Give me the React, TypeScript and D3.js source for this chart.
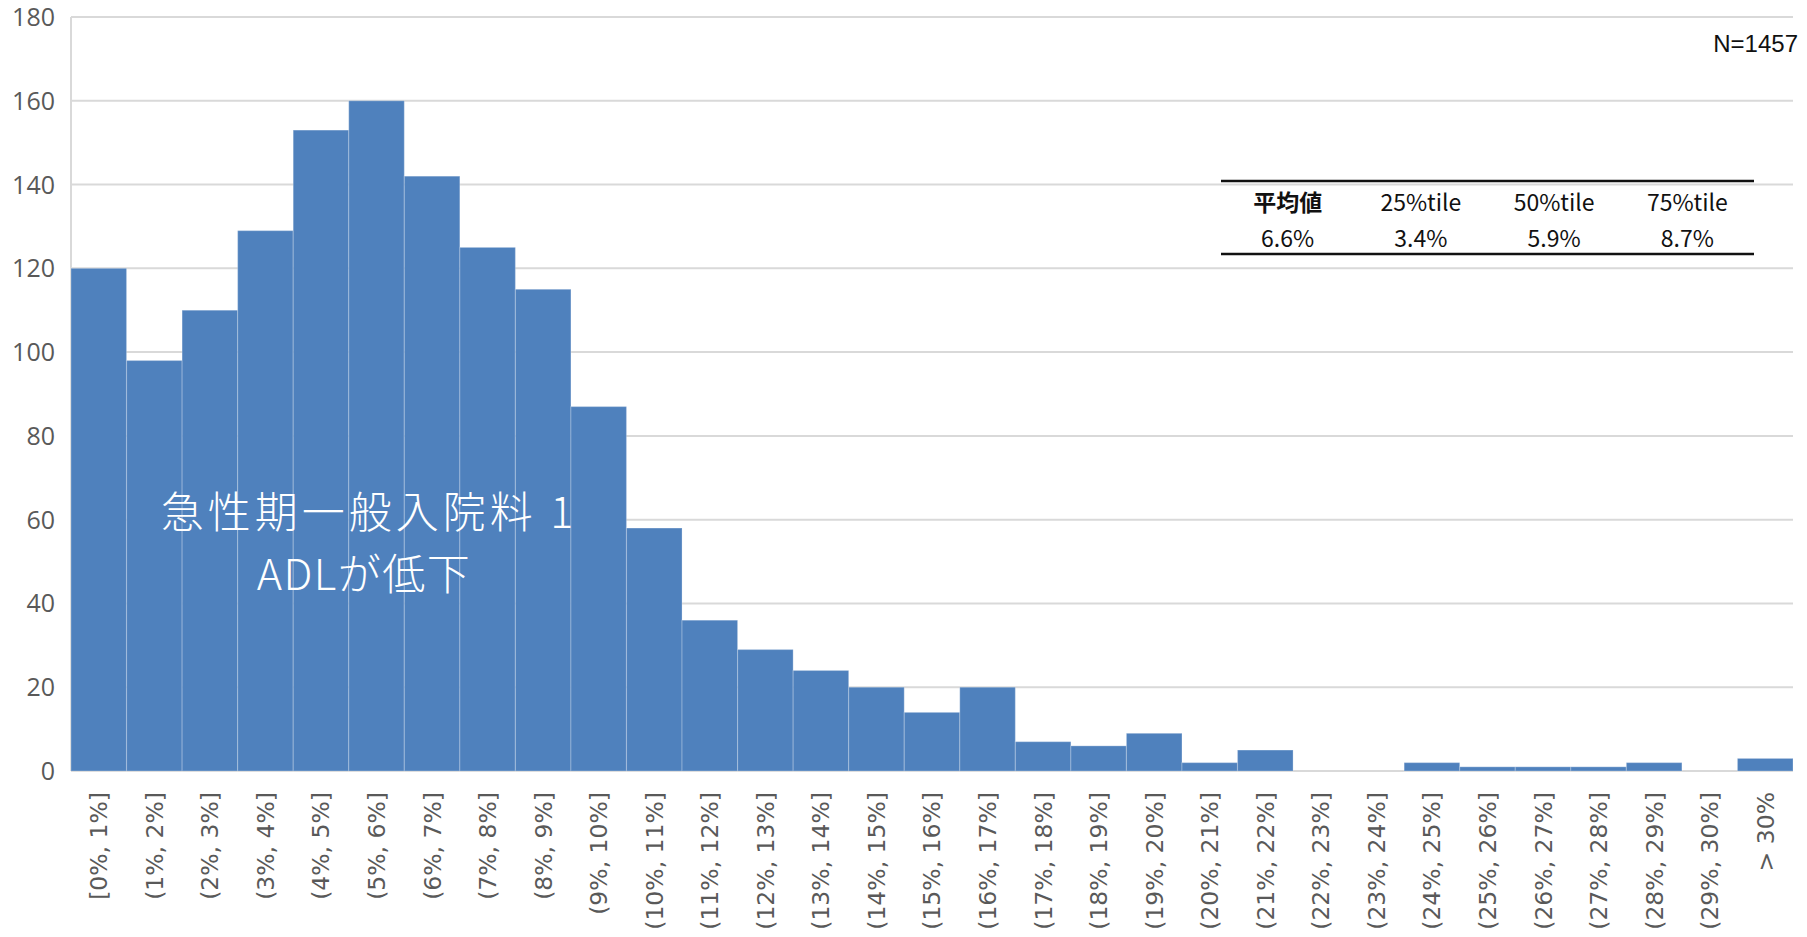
import React, { useRef, useEffect } from 'react';
import * as d3 from 'd3';

// bins of the histogram (x axis tick labels)
const binLabels: string[] = [
  '[0%, 1%]', '(1%, 2%]', '(2%, 3%]', '(3%, 4%]', '(4%, 5%]', '(5%, 6%]',
  '(6%, 7%]', '(7%, 8%]', '(8%, 9%]', '(9%, 10%]', '(10%, 11%]', '(11%, 12%]',
  '(12%, 13%]', '(13%, 14%]', '(14%, 15%]', '(15%, 16%]', '(16%, 17%]', '(17%, 18%]',
  '(18%, 19%]', '(19%, 20%]', '(20%, 21%]', '(21%, 22%]', '(22%, 23%]', '(23%, 24%]',
  '(24%, 25%]', '(25%, 26%]', '(26%, 27%]', '(27%, 28%]', '(28%, 29%]', '(29%, 30%]',
  '> 30%'
];

// number of hospitals in each bin
const counts: number[] = [
  120, 98, 110, 129, 153, 160, 142, 125, 115, 87, 58, 36,
  29, 24, 20, 14, 20, 7, 6, 9, 2, 5, 0, 0,
  2, 1, 1, 1, 2, 0, 3
];

const yTicks: number[] = [0, 20, 40, 60, 80, 100, 120, 140, 160, 180];

const statHeaders: string[] = ['平均値', '25%tile', '50%tile', '75%tile'];
const statValues: string[] = ['6.6%', '3.4%', '5.9%', '8.7%'];

const sampleLabel = 'N=1457';
const overlayLines: string[] = ['急性期一般入院料 1', 'ADLが低下'];

const WIDTH = 1807;
const HEIGHT = 937;

const App: React.FC = () => {
  const svgRef = useRef<SVGSVGElement>(null);

  useEffect(() => {
    if (!svgRef.current) return;
    const svg = d3.select(svgRef.current);
    svg.selectAll('*').remove();

    const left = 71;
    const right = 1793;
    const top = 17;
    const bottom = 771;

    const x = d3.scaleBand<string>()
      .domain(binLabels)
      .range([left, right])
      .padding(0);

    const y = d3.scaleLinear()
      .domain([0, 180])
      .range([bottom, top]);

    const grey = '#595959';

    // gridlines
    svg.append('g')
      .selectAll('line')
      .data(yTicks)
      .enter()
      .append('line')
      .attr('x1', left)
      .attr('x2', right)
      .attr('y1', d => y(d))
      .attr('y2', d => y(d))
      .attr('stroke', '#d9d9d9')
      .attr('stroke-width', 2);

    // left axis line
    svg.append('line')
      .attr('x1', left)
      .attr('x2', left)
      .attr('y1', top)
      .attr('y2', bottom)
      .attr('stroke', '#d9d9d9')
      .attr('stroke-width', 2);

    // y tick labels
    svg.append('g')
      .selectAll('text')
      .data(yTicks)
      .enter()
      .append('text')
      .attr('x', 55)
      .attr('y', d => y(d))
      .attr('dy', '0.36em')
      .attr('text-anchor', 'end')
      .style('font-family', '"Open Sans", sans-serif')
      .style('font-size', '25px')
      .style('fill', grey)
      .text(d => d);

    // bars
    svg.append('g')
      .selectAll('rect')
      .data(counts)
      .enter()
      .append('rect')
      .attr('x', (d, i) => x(binLabels[i]) as number)
      .attr('y', d => y(d))
      .attr('width', x.bandwidth())
      .attr('height', d => bottom - y(d))
      .attr('fill', '#4f81bd')
      .attr('stroke', 'rgba(255,255,255,0.22)')
      .attr('stroke-width', 1.2)
      .style('display', d => (d > 0 ? null : 'none'));

    // x tick labels, rotated
    svg.append('g')
      .selectAll('text')
      .data(binLabels)
      .enter()
      .append('text')
      .attr('transform', d => `translate(${(x(d) as number) + x.bandwidth() / 2}, 792) rotate(-90)`)
      .attr('dy', '0.36em')
      .attr('text-anchor', 'end')
      .style('font-family', '"DejaVu Sans", sans-serif')
      .style('font-size', '23.5px')
      .style('fill', grey)
      .text(d => d);

    // overlay title
    svg.append('g')
      .selectAll('text')
      .data(overlayLines)
      .enter()
      .append('text')
      .attr('x', (d, i) => (i === 0 ? 369 : 364))
      .attr('y', (d, i) => 528 + i * 62)
      .attr('text-anchor', 'middle')
      .style('font-family', '"Noto Sans CJK JP", sans-serif')
      .style('font-weight', 300)
      .style('font-size', '43px')
      .style('letter-spacing', (d, i) => (i === 0 ? '4px' : '1.5px'))
      .style('fill', '#ffffff')
      .text(d => d);

    // N label
    svg.append('text')
      .attr('x', 1798)
      .attr('y', 52)
      .attr('text-anchor', 'end')
      .style('font-family', '"Liberation Sans Narrow", "Liberation Sans", sans-serif')
      .style('font-size', '24px')
      .style('fill', '#111')
      .text(sampleLabel);

    // statistics table
    const tableLeft = 1221;
    const tableRight = 1754;
    const col = d3.scaleBand<number>()
      .domain(d3.range(statHeaders.length))
      .range([tableLeft, tableRight]);

    const table = svg.append('g');
    table.append('line')
      .attr('x1', tableLeft).attr('x2', tableRight)
      .attr('y1', 181).attr('y2', 181)
      .attr('stroke', '#111').attr('stroke-width', 2.5);
    table.append('line')
      .attr('x1', tableLeft).attr('x2', tableRight)
      .attr('y1', 254).attr('y2', 254)
      .attr('stroke', '#111').attr('stroke-width', 2.5);

    table.selectAll('.hdr')
      .data(statHeaders)
      .enter()
      .append('text')
      .attr('class', 'hdr')
      .attr('x', (d, i) => (col(i) as number) + col.bandwidth() / 2)
      .attr('y', 211)
      .attr('text-anchor', 'middle')
      .style('font-family', '"Noto Sans CJK JP", sans-serif')
      .style('font-size', '23px')
      .style('font-weight', (d, i) => (i === 0 ? 700 : 400))
      .style('fill', '#111')
      .text(d => d);

    table.selectAll('.val')
      .data(statValues)
      .enter()
      .append('text')
      .attr('class', 'val')
      .attr('x', (d, i) => (col(i) as number) + col.bandwidth() / 2)
      .attr('y', 247)
      .attr('text-anchor', 'middle')
      .style('font-family', '"Noto Sans CJK JP", sans-serif')
      .style('font-size', '23px')
      .style('fill', '#111')
      .text(d => d);
  }, []);

  return (
    <svg
      ref={svgRef}
      width={WIDTH}
      height={HEIGHT}
      viewBox={`0 0 ${WIDTH} ${HEIGHT}`}
      style={{ position: 'absolute', left: 0, top: 0, background: '#fff' }}
    />
  );
};

export default App;
